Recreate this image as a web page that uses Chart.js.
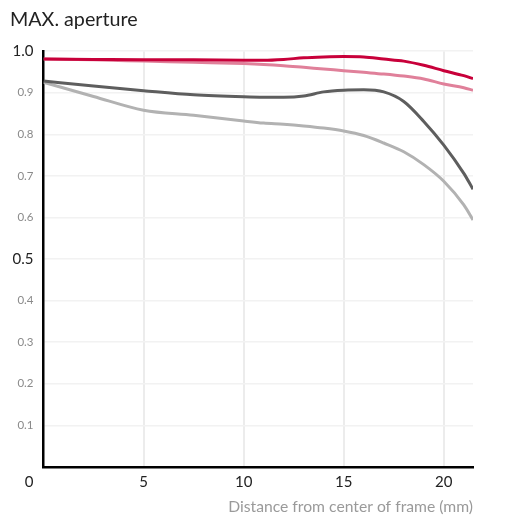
<!DOCTYPE html>
<html>
<head>
<meta charset="utf-8">
<script src="https://cdn.jsdelivr.net/npm/chart.js@4.4.1/dist/chart.umd.min.js"></script>
<style>
  html, body { margin: 0; padding: 0; background: #ffffff; }
  #wrap { position: relative; width: 520px; height: 529px; }
</style>
</head>
<body>
<div id="wrap"><canvas id="c"></canvas></div>
<script>
// Distance from center of frame (mm)
const distances = [0, 2.5, 5, 7.5, 10, 11, 12, 13, 14, 15, 16, 17, 18, 19, 20, 21, 21.46];
// Series values (contrast)
const seriesRed   = [0.981, 0.980, 0.979, 0.979, 0.978, 0.978, 0.980, 0.984, 0.986, 0.987, 0.986, 0.981, 0.976, 0.966, 0.953, 0.941, 0.934];
const seriesDark  = [0.928, 0.916, 0.905, 0.895, 0.890, 0.889, 0.889, 0.892, 0.902, 0.906, 0.907, 0.902, 0.879, 0.831, 0.774, 0.706, 0.668];
const seriesPink  = [0.981, 0.979, 0.976, 0.973, 0.970, 0.968, 0.965, 0.961, 0.957, 0.953, 0.949, 0.945, 0.940, 0.933, 0.921, 0.912, 0.906];
const seriesLight = [0.925, 0.891, 0.858, 0.846, 0.832, 0.827, 0.824, 0.820, 0.815, 0.808, 0.797, 0.779, 0.758, 0.727, 0.687, 0.630, 0.594];
const xTickValues = [5, 10, 15, 20];
const yMajorTicks = [1.0, 0.5];
const chartTitle = 'MAX. aperture';
const xAxisTitle = 'Distance from center of frame (mm)';
const xZeroLabel = '0';

const toPoints = vals => vals.map((v, i) => ({ x: distances[i], y: v }));
const isMajor = v => v !== undefined && yMajorTicks.some(m => Math.abs(m - v) < 1e-6);
const tickVal = ctx => (ctx && ctx.tick) ? ctx.tick.value : undefined;

const zeroLabelPlugin = {
  id: 'zeroLabel',
  afterDraw(chart) {
    const xs = chart.scales.x;
    const ctx = chart.ctx;
    ctx.save();
    ctx.font = '15px Lato';
    ctx.fillStyle = '#222222';
    ctx.textAlign = 'center';
    ctx.textBaseline = 'middle';
    ctx.fillText(xZeroLabel, xs.getPixelForValue(0) - 14.5, chart.chartArea.bottom + 15.5);
    ctx.restore();
  }
};

const lineStyle = (color) => ({
  borderColor: color,
  backgroundColor: color,
  borderWidth: 3,
  pointRadius: 0,
  fill: false,
  cubicInterpolationMode: 'monotone'
});

new Chart(document.getElementById('c'), {
  type: 'line',
  data: {
    datasets: [
      Object.assign({ label: 'red', data: toPoints(seriesRed) }, lineStyle('#c8003a')),
      Object.assign({ label: 'dark', data: toPoints(seriesDark) }, lineStyle('#5e5e5e')),
      Object.assign({ label: 'pink', data: toPoints(seriesPink) }, lineStyle('#e0809a')),
      Object.assign({ label: 'light', data: toPoints(seriesLight) }, lineStyle('#b2b2b2'))
    ]
  },
  options: {
    responsive: true,
    maintainAspectRatio: false,
    animation: false,
    layout: { padding: { left: 10, right: 47, top: 0, bottom: 6.5 } },
    plugins: {
      legend: { display: false },
      tooltip: { enabled: false },
      title: {
        display: true,
        text: chartTitle,
        align: 'start',
        color: '#222222',
        font: { family: 'Lato', size: 19.7, weight: 'normal' },
        padding: { top: 7.5, bottom: 20 }
      }
    },
    scales: {
      x: {
        type: 'linear',
        min: 0,
        max: 21.46,
        border: { display: true, color: '#000000', width: 2.5 },
        grid: { color: '#ececec', lineWidth: 2, drawTicks: false },
        afterBuildTicks: (scale) => { scale.ticks = xTickValues.map(v => ({ value: v })); },
        ticks: {
          padding: 6,
          color: '#222222',
          font: { family: 'Lato', size: 15 },
          maxRotation: 0,
          callback: (v) => String(v)
        },
        title: {
          display: true,
          text: xAxisTitle,
          align: 'end',
          color: '#9a9a9a',
          font: { family: 'Lato', size: 15.7 },
          padding: { top: 0.8, bottom: 6 }
        }
      },
      y: {
        type: 'linear',
        min: 0,
        max: 1,
        border: { display: true, color: '#000000', width: 2.5 },
        grid: { color: '#f2f2f2', lineWidth: 1.5, drawTicks: false },
        afterFit: (scale) => { scale.width = 33.5; },
        ticks: {
          stepSize: 0.1,
          padding: 10,
          color: (ctx) => isMajor(tickVal(ctx)) ? '#222222' : '#8a8a8a',
          font: (ctx) => ({ family: 'Lato', size: isMajor(tickVal(ctx)) ? 15 : 11.5 }),
          callback: (v) => (Math.abs(v) < 1e-6 ? '' : Number(v).toFixed(1))
        }
      }
    }
  },
  plugins: [zeroLabelPlugin]
});
</script>
</body>
</html>
